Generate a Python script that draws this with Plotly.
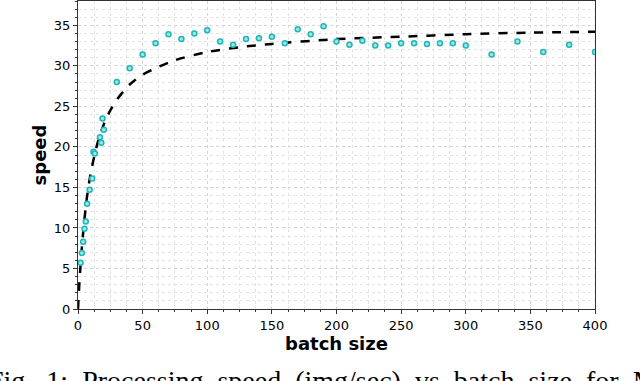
import plotly.graph_objects as go

# measured points (batch size, img/sec)
batch = [2, 3, 4, 5, 6, 7, 9, 11, 12, 13, 17, 18, 19, 20,
         30, 40, 50, 60, 70, 80, 90, 100, 110, 120, 130, 140,
         150, 160, 170, 180, 190, 200, 210, 220, 230, 240, 250,
         260, 270, 280, 290, 300, 320, 340, 360, 380, 400]
speed = [5.7, 6.9, 8.3, 9.9, 10.8, 13.0, 14.7, 16.1, 19.4, 19.2, 21.2, 20.5, 23.5, 22.1,
         28.0, 29.7, 31.4, 32.8, 33.9, 33.3, 34.0, 34.4, 33.0, 32.6, 33.3, 33.4,
         33.6, 32.8, 34.5, 33.9, 34.9, 33.0, 32.6, 33.1, 32.5, 32.5, 32.8,
         32.8, 32.7, 32.8, 32.8, 32.5, 31.4, 33.0, 31.7, 32.6, 31.7]

# fitted curve
fit_x = [0, 1, 2, 3, 5, 7, 10, 15, 20, 25, 30, 40, 50, 60, 75, 100,
         125, 150, 200, 250, 300, 350, 400]
fit_y = [0, 3.0, 5.5, 7.6, 11.1, 13.9, 16.9, 20.4, 22.8, 24.5, 25.8, 27.7, 28.9, 29.7, 30.7, 31.7,
         32.3, 32.7, 33.3, 33.6, 33.9, 34.1, 34.2]

sp = "\u00a0\u00a0"
caption = sp.join(["Fig.", "1:", "Processing", "speed", "(img/sec)", "vs", "batch", "size", "for", "MobileNet"])

fig = go.Figure()
fig.add_trace(go.Scatter(
    x=fit_x, y=fit_y, mode='lines',
    line=dict(color='black', width=2.5, dash='dash', shape='spline', smoothing=0.8),
    hoverinfo='skip'
))
fig.add_trace(go.Scatter(
    x=batch, y=speed, mode='markers',
    marker=dict(symbol='circle', size=5, color='#a8e2e2',
                line=dict(color='#1ab8b8', width=1.5))
))

axis_common = dict(
    showline=True, linecolor='#333333', linewidth=1.2, mirror=True,
    ticks='outside', ticklen=4, tickcolor='#333333',
    showgrid=True, gridcolor='#d4d4d4', griddash='dot', gridwidth=1,
    zeroline=False, automargin=False,
    tickfont=dict(family='DejaVu Sans', size=13, color='black'),
)

fig.update_xaxes(
    range=[0, 400], dtick=50, tick0=0,
    minor=dict(dtick=12.5, ticks='outside', ticklen=2, tickcolor='#333333',
               showgrid=True, gridcolor='#e3e3e3', griddash='dot'),
    title=dict(text='<b>batch size</b>', font=dict(family='DejaVu Sans', size=18, color='black'),
               standoff=0),
    **axis_common
)
fig.update_yaxes(
    range=[0, 38], dtick=5, tick0=0,
    minor=dict(dtick=1, ticks='outside', ticklen=2, tickcolor='#333333',
               showgrid=True, gridcolor='#e3e3e3', griddash='dot'),
    title=dict(text='<b>speed</b>', font=dict(family='DejaVu Sans', size=18, color='black'),
               standoff=2),
    **axis_common
)

fig.add_annotation(
    text=caption, xref='paper', yref='paper', x=-0.178, y=-0.175,
    xanchor='left', yanchor='top', showarrow=False, align='left',
    font=dict(family='Liberation Serif', size=28, color='black')
)

fig.update_layout(
    width=640, height=381,
    margin=dict(l=78, r=45, t=1, b=72),
    plot_bgcolor='white', paper_bgcolor='white',
    showlegend=False,
)

# page body margin would shift the figure by 8px
fig.write_html("out.html", config={'displayModeBar': False},
               post_script="document.body.style.margin='0';")
